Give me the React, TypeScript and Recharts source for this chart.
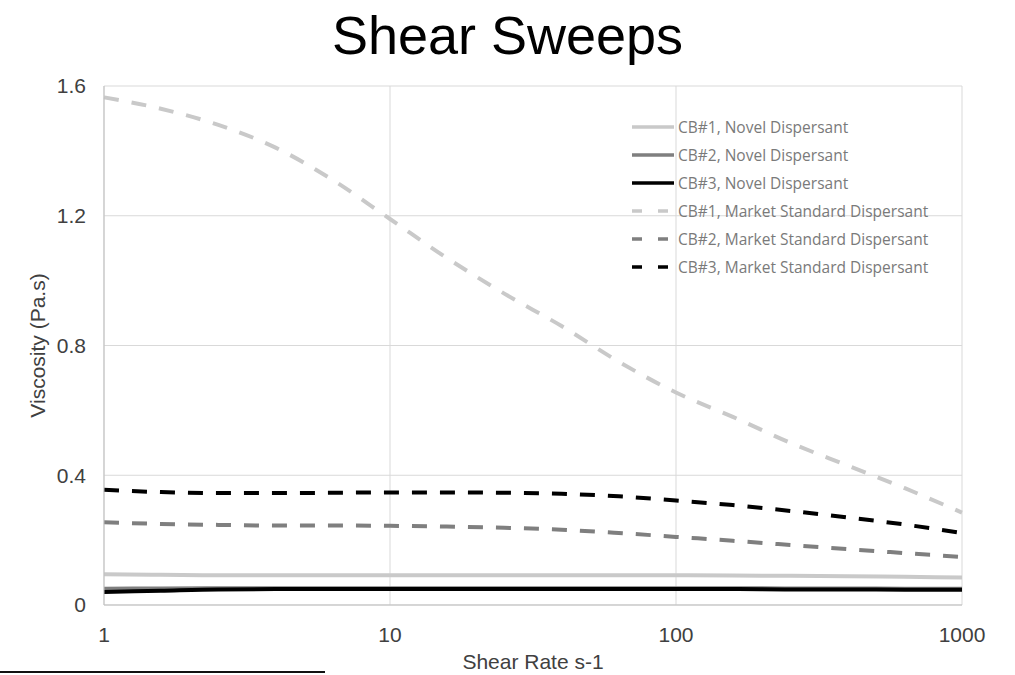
import { LineChart, Line, XAxis, YAxis, CartesianGrid } from "recharts";

const shearRates = [1, 1.58, 2.51, 3.98, 6.31, 10, 15.8, 25.1, 39.8, 63.1, 100, 158, 251, 398, 631, 1000];

const cb1Novel = [0.095, 0.093, 0.092, 0.092, 0.092, 0.092, 0.092, 0.092, 0.092, 0.092, 0.092, 0.091, 0.09, 0.089, 0.087, 0.085];
const cb2Novel = [0.05, 0.051, 0.052, 0.052, 0.052, 0.052, 0.052, 0.052, 0.052, 0.052, 0.052, 0.052, 0.051, 0.051, 0.05, 0.05];
const cb3Novel = [0.04, 0.044, 0.048, 0.049, 0.049, 0.049, 0.049, 0.049, 0.049, 0.049, 0.049, 0.049, 0.048, 0.048, 0.047, 0.047];
const cb1Market = [1.565, 1.53, 1.48, 1.41, 1.31, 1.19, 1.07, 0.96, 0.86, 0.75, 0.655, 0.58, 0.5, 0.43, 0.36, 0.285];
const cb2Market = [0.255, 0.25, 0.247, 0.245, 0.245, 0.244, 0.242, 0.238, 0.232, 0.222, 0.21, 0.198, 0.185, 0.172, 0.16, 0.148];
const cb3Market = [0.355, 0.348, 0.345, 0.345, 0.346, 0.347, 0.347, 0.346, 0.343, 0.335, 0.322, 0.308, 0.29, 0.27, 0.248, 0.222];

const yTicks = [0, 0.4, 0.8, 1.2, 1.6];
const xTicks = [1, 10, 100, 1000];

const data = shearRates.map((x, i) => ({
  x,
  cb1Novel: cb1Novel[i],
  cb2Novel: cb2Novel[i],
  cb3Novel: cb3Novel[i],
  cb1Market: cb1Market[i],
  cb2Market: cb2Market[i],
  cb3Market: cb3Market[i],
}));

const series = [
  { key: "cb1Novel", name: "CB#1, Novel Dispersant", color: "#c9c9c9", dash: undefined },
  { key: "cb2Novel", name: "CB#2, Novel Dispersant", color: "#7f7f7f", dash: undefined },
  { key: "cb3Novel", name: "CB#3, Novel Dispersant", color: "#000000", dash: undefined },
  { key: "cb1Market", name: "CB#1, Market Standard Dispersant", color: "#c9c9c9", dash: "15 13" },
  { key: "cb2Market", name: "CB#2, Market Standard Dispersant", color: "#7f7f7f", dash: "15 13" },
  { key: "cb3Market", name: "CB#3, Market Standard Dispersant", color: "#000000", dash: "15 13" },
];

const font = "'Liberation Sans', Arial, sans-serif";
const axisText = { fill: "#404040", fontSize: 21, fontFamily: font };

// legend sits inside the plot, top right
const LegendBox = () => (
  <div
    style={{
      position: "absolute",
      top: 113,
      left: 630,
      fontFamily: "'Open Sans', sans-serif",
      fontSize: 15.5,
      color: "#7a7a7a",
      lineHeight: "28px",
    }}
  >
    {series.map((s) => (
      <div key={s.key} style={{ display: "flex", alignItems: "center", height: 28 }}>
        <svg width={46} height={10}>
          <line
            x1={2}
            y1={5}
            x2={44}
            y2={5}
            stroke={s.color}
            strokeWidth={3.5}
            strokeDasharray={s.dash ? "10 16" : undefined}
          />
        </svg>
        <span style={{ marginLeft: 2 }}>{s.name}</span>
      </div>
    ))}
  </div>
);

export default function App() {
  return (
    <div style={{ position: "fixed", top: 0, left: 0, width: 1015, height: 675, background: "#fff" }}>
      <div
        style={{
          position: "absolute",
          top: 2,
          left: 0,
          width: 1015,
          textAlign: "center",
          fontFamily: font,
          fontSize: 54,
          lineHeight: "66px",
          color: "#000",
        }}
      >
        Shear Sweeps
      </div>
      <LineChart width={1015} height={675} data={data} margin={{ top: 86, right: 53, left: 0, bottom: 0 }}>
        <CartesianGrid stroke="#d9d9d9" strokeWidth={1} />
        <XAxis
          dataKey="x"
          type="number"
          scale="log"
          domain={[1, 1000]}
          ticks={xTicks}
          height={70}
          axisLine={{ stroke: "#bfbfbf" }}
          tickLine={false}
          tickMargin={16}
          tick={axisText}
          label={{ value: "Shear Rate s-1", position: "insideBottom", offset: 6, ...axisText }}
        />
        <YAxis
          type="number"
          domain={[0, 1.6]}
          ticks={yTicks}
          width={104}
          axisLine={{ stroke: "#bfbfbf" }}
          tickLine={false}
          tickMargin={12}
          tick={axisText}
          label={{
            value: "Viscosity (Pa.s)",
            angle: -90,
            position: "insideLeft",
            offset: 38,
            ...axisText,
            style: { textAnchor: "middle" },
          }}
        />
        {series.map((s) => (
          <Line
            key={s.key}
            dataKey={s.key}
            name={s.name}
            stroke={s.color}
            strokeWidth={4}
            strokeDasharray={s.dash}
            dot={false}
            type="monotone"
            isAnimationActive={false}
          />
        ))}
      </LineChart>
      <LegendBox />
      <div style={{ position: "absolute", top: 671, left: 0, width: 325, height: 2, background: "#111" }} />
    </div>
  );
}
